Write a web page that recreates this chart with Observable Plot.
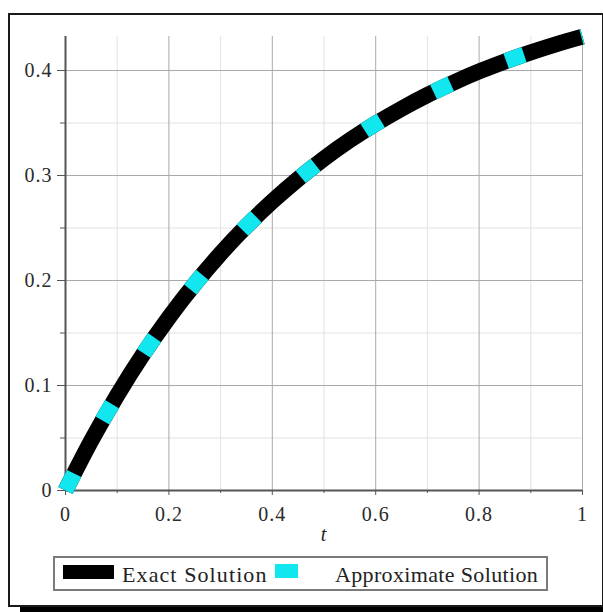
<!DOCTYPE html>
<html>
<head>
<meta charset="utf-8">
<script src="https://cdn.jsdelivr.net/npm/d3@7"></script>
<script src="https://cdn.jsdelivr.net/npm/@observablehq/plot@0.6"></script>
<style>
  html, body { margin: 0; padding: 0; background: #fff; }
  #wrap { position: relative; width: 603px; height: 612px; overflow: hidden; background: #fff; }
  #frame { position: absolute; left: 8px; top: 13px; width: 592px; height: 590px; border: 2px solid #1a1a1a; }
  #shadow { position: absolute; left: 20px; top: 607px; width: 583px; height: 5px; background: #000; }
  #chart { position: absolute; left: 0; top: 0; }
  #chart text { letter-spacing: 1px; }
  #legend { position: absolute; left: 53px; top: 556px; width: 491px; height: 31px; border: 2px solid #7a7a7a; }
  .sw { position: absolute; }
  .lab { position: absolute; font-family: "Liberation Serif", "Times New Roman", serif; font-size: 22px; line-height: 22px; color: #222; white-space: nowrap; }
</style>
</head>
<body>
<div id="wrap">
  <div id="frame"></div>
  <div id="shadow"></div>
  <div id="chart"></div>
  <div id="legend"></div>
</div>
<script>
// ---- data ----
const tValues = [0, 0.05, 0.1, 0.15, 0.2, 0.25, 0.3, 0.35, 0.4, 0.45, 0.5,
                 0.55, 0.6, 0.65, 0.7, 0.75, 0.8, 0.85, 0.9, 0.95, 1.0];
const exactValues = [0, 0.0476, 0.0906, 0.1296, 0.1648, 0.1967, 0.2256, 0.2517, 0.2753, 0.2967, 0.3161,
                     0.3336, 0.3494, 0.3637, 0.3767, 0.3884, 0.3991, 0.4087, 0.4173, 0.4252, 0.4323];
const approxValues = [0, 0.0476, 0.0906, 0.1296, 0.1648, 0.1967, 0.2256, 0.2517, 0.2753, 0.2967, 0.3161,
                      0.3336, 0.3494, 0.3637, 0.3767, 0.3884, 0.3991, 0.4087, 0.4173, 0.4252, 0.4323];
const xMajor = [0, 0.2, 0.4, 0.6, 0.8, 1];
const xTickLabels = ["0", "0.2", "0.4", "0.6", "0.8", "1"];
const xMinor = [0.1, 0.3, 0.5, 0.7, 0.9];
const yMajor = [0, 0.1, 0.2, 0.3, 0.4];
const yTickLabels = ["0", "0.1", "0.2", "0.3", "0.4"];
const yMinor = [0.05, 0.15, 0.25, 0.35];
const xLabel = "t";
const seriesNames = ["Exact Solution", "Approximate Solution"];
const seriesColors = ["#000000", "#12e6ee"];

const exactData = tValues.map((t, i) => ({t, y: exactValues[i]}));
const approxData = tValues.map((t, i) => ({t, y: approxValues[i]}));

const serif = "'Liberation Serif', 'Times New Roman', serif";

const chart = Plot.plot({
  width: 603,
  height: 548,
  marginLeft: 65,
  marginRight: 21,
  marginTop: 36,
  marginBottom: 58,
  x: {domain: [0, 1], axis: null},
  y: {domain: [0, 0.4324], axis: null},
  style: {
    fontFamily: serif,
    fontSize: "20px",
    color: "#2a2a2a",
    background: "transparent",
    overflow: "visible"
  },
  marks: [
    Plot.ruleX(xMinor, {stroke: "#e2e2e2", strokeWidth: 1}),
    Plot.ruleY(yMinor, {stroke: "#e2e2e2", strokeWidth: 1}),
    Plot.ruleX(xMajor.slice(1), {stroke: "#a9a9a9", strokeWidth: 1}),
    Plot.ruleY(yMajor.slice(1), {stroke: "#a9a9a9", strokeWidth: 1}),
    Plot.ruleX([0], {stroke: "#555", strokeWidth: 2}),
    Plot.ruleY([0], {stroke: "#555", strokeWidth: 2}),
    Plot.axisX(xMajor, {tickSize: 5, tickPadding: 11, stroke: "#555", fontSize: 20, fontFamily: serif,
      fill: "#2a2a2a", tickFormat: d => xTickLabels[xMajor.indexOf(d)], label: null}),
    Plot.axisX(xMinor, {tickSize: 3, stroke: "#555", tickFormat: () => "", label: null}),
    Plot.axisY(yMajor, {tickSize: 8, tickPadding: 5, stroke: "#555", fontSize: 20, fontFamily: serif,
      fill: "#2a2a2a", tickFormat: d => yTickLabels[yMajor.indexOf(d)], label: null}),
    Plot.axisY(yMinor, {tickSize: 5, stroke: "#555", tickFormat: () => "", label: null}),
    Plot.text([xLabel], {frameAnchor: "bottom", dy: 50, fontStyle: "italic", fontSize: 20, fontFamily: serif, fill: "#222"}),
    Plot.line(exactData, {x: "t", y: "y", stroke: seriesColors[0], strokeWidth: 16,
      strokeLinecap: "butt", strokeLinejoin: "round", curve: "monotone-x"}),
    Plot.line(approxData, {x: "t", y: "y", stroke: seriesColors[1], strokeWidth: 16,
      strokeLinecap: "butt", strokeLinejoin: "round", strokeDasharray: "19,60", curve: "monotone-x"})
  ]
});
document.getElementById("chart").appendChild(chart);

// ---- legend ----
const wrap = document.getElementById("wrap");
function addSwatch(left, top, w, h, color) {
  const s = document.createElement("div");
  s.className = "sw";
  Object.assign(s.style, {left: left + "px", top: top + "px", width: w + "px", height: h + "px", background: color});
  wrap.appendChild(s);
}
function addLabel(left, top, text, spacing) {
  const l = document.createElement("div");
  l.className = "lab";
  l.textContent = text;
  Object.assign(l.style, {left: left + "px", top: top + "px", letterSpacing: spacing + "px"});
  wrap.appendChild(l);
}
addSwatch(63, 565, 51, 14, seriesColors[0]);
addLabel(122, 564, seriesNames[0], 1.1);
addSwatch(275, 564, 23, 14, seriesColors[1]);
addLabel(335, 564, seriesNames[1], 0.35);
</script>
</body>
</html>
